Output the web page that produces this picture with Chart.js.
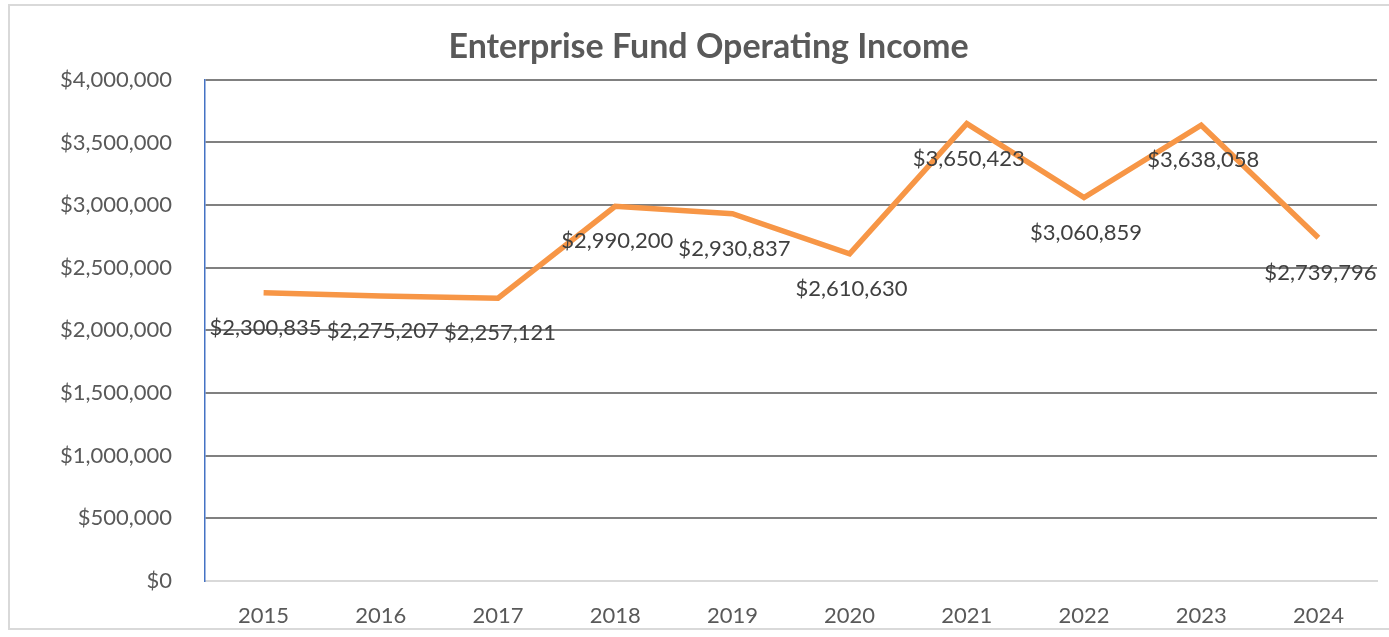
<!DOCTYPE html>
<html>
<head>
<meta charset="utf-8">
<script src="https://cdn.jsdelivr.net/npm/chart.js"></script>
<style>
  html, body { margin: 0; padding: 0; background: #fff; }
  #wrap { position: relative; width: 1389px; height: 637px; }
  #frame { position: absolute; left: 8px; top: 4px; width: 1390px; height: 626px; border: 2px solid #d9d9d9; box-sizing: border-box; }
  canvas { position: absolute; left: 0; top: 0; }
</style>
</head>
<body>
<div id="wrap">
  <div id="frame"></div>
  <canvas id="myChart" width="1389" height="637"></canvas>
</div>
<script>
// データ
var years = ["2015", "2016", "2017", "2018", "2019", "2020", "2021", "2022", "2023", "2024"];
var income = [2300835, 2275207, 2257121, 2990200, 2930837, 2610630, 3650423, 3060859, 3638058, 2739796];
var yTicks = [0, 500000, 1000000, 1500000, 2000000, 2500000, 3000000, 3500000, 4000000];

var FONT = "Lato, 'Open Sans', sans-serif";

function money(v) {
  return "$" + Number(v).toLocaleString("en-US");
}

// 値ラベル（点の下に表示）
var valueLabels = {
  id: "valueLabels",
  afterDatasetsDraw: function (chart) {
    var ctx = chart.ctx;
    var meta = chart.getDatasetMeta(0);
    ctx.save();
    ctx.font = "22px " + FONT;
    ctx.fillStyle = "#404040";
    ctx.textAlign = "center";
    ctx.textBaseline = "middle";
    meta.data.forEach(function (pt, i) {
      ctx.fillText(money(income[i]), pt.x + 2, pt.y + 35);
    });
    ctx.restore();
  }
};

var ctx = document.getElementById("myChart").getContext("2d");
var myChart = new Chart(ctx, {
  type: "line",
  data: {
    labels: years,
    datasets: [{
      data: income,
      borderColor: "#F79646",
      borderWidth: 5.5,
      pointRadius: 0,
      tension: 0,
      borderJoinStyle: "miter"
    }]
  },
  options: {
    responsive: false,
    animation: false,
    layout: { padding: { top: 10, right: 12, left: 40, bottom: 0 } },
    plugins: {
      legend: { display: false },
      tooltip: { enabled: false },
      title: {
        display: true,
        text: "Enterprise Fund Operating Income",
        color: "#595959",
        font: { family: FONT, size: 34, weight: "bold" },
        padding: { top: 17, bottom: 12 }
      }
    },
    scales: {
      x: {
        offset: true,
        grid: { display: false, drawTicks: false },
        border: { color: "#d9d9d9", width: 2 },
        ticks: { color: "#595959", font: { family: FONT, size: 22 }, padding: 22 },
        afterFit: function (scale) { scale.height = 56; }
      },
      y: {
        min: 0,
        max: 4000000,
        afterBuildTicks: function (scale) {
          scale.ticks = yTicks.map(function (v) { return { value: v }; });
        },
        grid: {
          drawTicks: false,
          lineWidth: 2,
          color: function (c) { return c.tick && c.tick.value === 0 ? "#d9d9d9" : "#808080"; }
        },
        border: { color: "#4472C4", width: 1.5 },
        ticks: {
          color: "#595959",
          font: { family: FONT, size: 22 },
          padding: 33,
          callback: function (v) { return money(v); }
        },
        afterFit: function (scale) { scale.width = 165; }
      }
    }
  },
  plugins: [valueLabels]
});
</script>
</body>
</html>
